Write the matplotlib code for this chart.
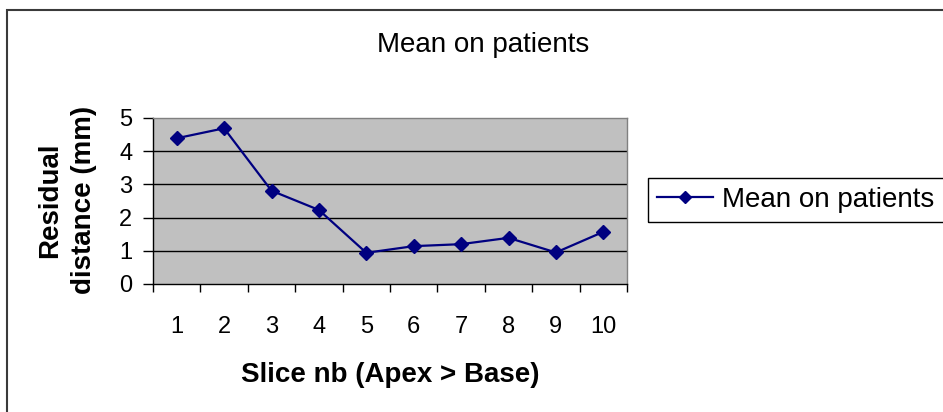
import matplotlib
matplotlib.use("Agg")
import matplotlib.pyplot as plt
import matplotlib.patches as patches
import numpy as np

plt.rcParams['font.family'] = ['Liberation Sans', 'DejaVu Sans']

# values
slices = [1, 2, 3, 4, 5, 6, 7, 8, 9, 10]
slice_labels = ["1", "2", "3", "4", "5", "6", "7", "8", "9", "10"]
residual = [4.39, 4.69, 2.81, 2.23, 0.94, 1.14, 1.20, 1.39, 0.95, 1.57]
y_ticks = [0, 1, 2, 3, 4, 5]

series_name = "Mean on patients"
title = "Mean on patients"
x_title = "Slice nb (Apex > Base)"
y_title = "Residual\ndistance (mm)"

W, H = 943, 412


def fx(px):
    return px / W


def fy(py):
    return 1 - py / H


fig = plt.figure(figsize=(W / 100, H / 100), dpi=100)
fig.patch.set_facecolor("white")

# plot area
ax = fig.add_axes([fx(153), fy(284), fx(627) - fx(153), fy(118) - fy(284)])
ax.set_facecolor("#C0C0C0")

line, = ax.plot(slices, residual, color="#000080", lw=1.6, marker="D",
                ms=7, mfc="#000080", mec="#000080", label=series_name, zorder=3)

ax.set_xlim(0.5, 10.5)
ax.set_ylim(0, 5)

# y axis
ax.set_yticks(y_ticks)
ax.set_yticklabels([str(v) for v in y_ticks])
ax.tick_params(axis="y", direction="out", length=7, width=1, pad=8,
               labelsize=17, colors="black")
for v in y_ticks[1:-1]:
    ax.axhline(v, color="black", lw=1, zorder=1)

# x axis: ticks between categories, labels at centers
ax.set_xticks(np.arange(0.5, 11, 1))
ax.set_xticklabels([])
ax.set_xticks(slices, minor=True)
ax.set_xticklabels(slice_labels, minor=True)
ax.tick_params(axis="x", which="major", direction="out", length=6, width=1)
ax.tick_params(axis="x", which="minor", length=0, pad=23, labelsize=17)

ax.spines["left"].set_color("black")
ax.spines["bottom"].set_color("black")
ax.spines["top"].set_color("#808080")
ax.spines["right"].set_color("#808080")
for s in ax.spines.values():
    s.set_linewidth(1)

# texts
fig.text(fx(483), fy(45), title, ha="center", va="center", fontsize=20)
fig.text(fx(390), fy(375), x_title, ha="center", va="center",
         fontsize=20, fontweight="bold")
fig.text(fx(67), fy(200), y_title, ha="center", va="center", rotation=90,
         fontsize=20, fontweight="bold", linespacing=1.4)

# legend (box runs off the right edge like the original)
fig.add_artist(patches.Rectangle((fx(648), fy(222)), 0.4, fy(178) - fy(222),
                                 transform=fig.transFigure, fill=False,
                                 edgecolor="black", lw=1))
fig.legend(handles=[line], loc="center left",
           bbox_to_anchor=(fx(657), fy(200)), frameon=False,
           fontsize=20, handlelength=2.0, handletextpad=0.35,
           borderpad=0, borderaxespad=0, markerscale=0.85)

# outer chart border
fig.add_artist(patches.Rectangle((fx(7), -0.2), 1.2, fy(10.5) + 0.2,
                                 transform=fig.transFigure, fill=False,
                                 edgecolor="#3a3a3a", lw=1.5))

fig.savefig("out.png", dpi=100)
